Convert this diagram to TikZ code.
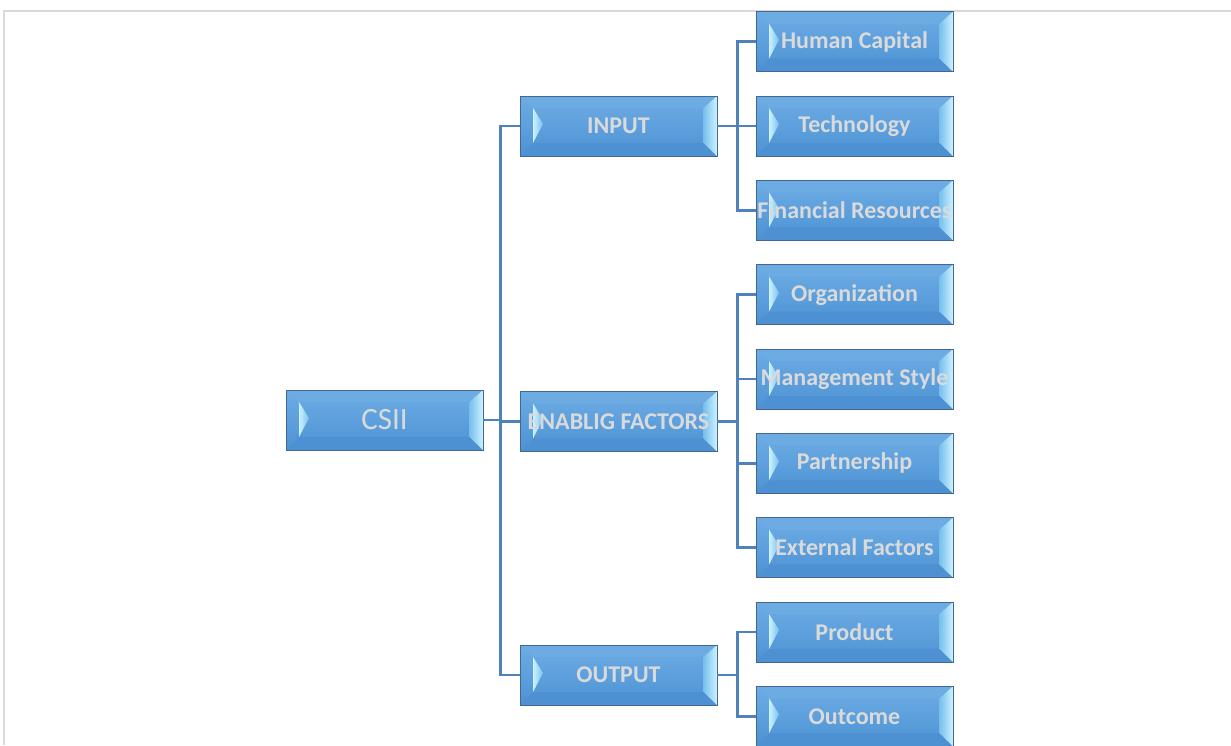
\documentclass[tikz,border=0pt]{standalone}
\usepackage{fontspec}
\setmainfont{Carlito}
\definecolor{conncol}{RGB}{79,129,189}
\definecolor{fillmid}{RGB}{93,160,221}
\definecolor{filltop}{RGB}{110,172,228}
\definecolor{fillbot}{RGB}{78,145,210}
\definecolor{edgecol}{RGB}{66,104,145}
\definecolor{glowA}{RGB}{205,242,255}
\definecolor{glowB}{RGB}{120,192,238}
\definecolor{txtcol}{RGB}{218,218,218}
\definecolor{framecol}{RGB}{217,217,217}
\tikzset{
  conn/.style={draw=conncol, line width=1.25pt},
  boxfill/.style={top color=filltop, bottom color=fillbot, middle color=fillmid},
  topfacet/.style={fill=filltop, opacity=0.9},
  botfacet/.style={fill=fillbot},
  rightfacet/.style={left color=glowB, right color=glowA},
  leftglow/.style={left color=glowA, right color=glowB},
  boxedge/.style={draw=edgecol, line width=0.5pt},
  boxtext/.style={rectangle, minimum width=98.5pt, minimum height=30pt, inner sep=0pt, text=txtcol, font=\fontsize{12}{14}\selectfont\bfseries},
  bigtext/.style={boxtext, font=\fontsize{15.5}{18}\selectfont},
}
\newcommand{\bevbox}[5][boxtext]{%
  \begin{scope}[shift={(#3,#4)}]
    \shade[boxfill] (-98.5,-30) rectangle (98.5,30);
    \fill[topfacet] (-98.5,-30) -- (98.5,-30) -- (85,-18) -- (-85,-18) -- cycle;
    \fill[botfacet] (-98.5,30) -- (98.5,30) -- (85,17) -- (-85,17) -- cycle;
    \shade[rightfacet] (98.5,-30) -- (98.5,30) -- (85,17) -- (85,-18) -- cycle;
    \shade[leftglow] (-85.5,-18) -- (-75.5,-2) -- (-85.5,17) -- cycle;
    \draw[boxedge] (-98.5,-30) rectangle (98.5,30);
  \end{scope}
  \node[#1] (#2) at (#3,#4) {#5};
}
\begin{document}
\begin{tikzpicture}[x=0.5pt,y=-0.5pt]
\useasboundingbox (0,0) rectangle (1231,745);
\fill[white] (0,0) rectangle (1231,745);
\draw[framecol, line width=1pt] (4,745) -- (4,10.5) -- (1231,10.5);

\bevbox[bigtext]{csii}{384.5}{420}{CSII}
\bevbox{input}{618.5}{126}{INPUT}
\bevbox{enab}{618.5}{421.5}{ENABLIG FACTORS}
\bevbox{output}{618.5}{675}{OUTPUT}

\bevbox{hc}{854.5}{41.7}{Human Capital}
\bevbox{tech}{854.5}{126}{Technology}
\bevbox{fin}{854.5}{210.3}{Financial Resources}
\bevbox{org}{854.5}{294.6}{Organization}
\bevbox{mgmt}{854.5}{379}{Management Style}
\bevbox{part}{854.5}{463.3}{Partnership}
\bevbox{ext}{854.5}{547.6}{External Factors}
\bevbox{prod}{854.5}{632}{Product}
\bevbox{outc}{854.5}{716.3}{Outcome}

\foreach \c in {input,enab,output}
  \draw[conn] (csii.east) -- ++(17,0) |- (\c.west);
\foreach \c in {hc,tech,fin}
  \draw[conn] (input.east) -- ++(20,0) |- (\c.west);
\foreach \c in {org,mgmt,part,ext}
  \draw[conn] (enab.east) -- ++(20,0) |- (\c.west);
\foreach \c in {prod,outc}
  \draw[conn] (output.east) -- ++(20,0) |- (\c.west);
\end{tikzpicture}
\end{document}
